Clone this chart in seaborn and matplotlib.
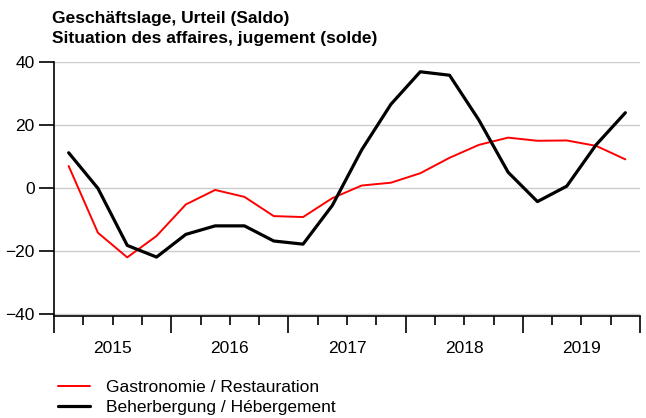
import pandas as pd
import seaborn as sns
import matplotlib.pyplot as plt
from matplotlib.ticker import MultipleLocator
import matplotlib.transforms as mtransforms

# quarterly balances 2015Q1 - 2019Q4
quarters = pd.period_range('2015Q1', '2019Q4', freq='Q')
gastro = [7.0, -14.2, -22.0, -15.2, -5.2, -0.6, -2.8, -8.9, -9.2, -3.2,
          0.8, 1.7, 4.7, 9.6, 13.7, 16.0, 15.0, 15.1, 13.4, 9.1]
hotel = [11.2, -0.1, -18.2, -21.9, -14.7, -12.0, -12.0, -16.8, -17.8, -5.5,
         12.1, 26.6, 36.9, 35.8, 21.6, 5.0, -4.3, 0.6, 13.7, 23.9]
years = [2015, 2016, 2017, 2018, 2019]
series_names = ['Gastronomie / Restauration', 'Beherbergung / Hébergement']
title = 'Geschäftslage, Urteil (Saldo)\nSituation des affaires, jugement (solde)'

# x position = middle of each quarter
xpos = [p.year + (p.quarter - 0.5) / 4 for p in quarters]
df = pd.DataFrame({
    'x': xpos * 2,
    'value': gastro + hotel,
    'series': [series_names[0]] * len(gastro) + [series_names[1]] * len(hotel),
})

sns.set_style('white')
plt.rcParams['font.family'] = ['Liberation Sans', 'DejaVu Sans']
plt.rcParams['text.color'] = 'black'
plt.rcParams['xtick.color'] = 'black'
plt.rcParams['ytick.color'] = 'black'
plt.rcParams['xtick.labelcolor'] = 'black'
plt.rcParams['ytick.labelcolor'] = 'black'
fs = 12.5

fig = plt.figure(figsize=(6.46, 4.18), dpi=100)
ax = fig.add_axes([54 / 646, 1 - 316 / 418, 586 / 646, 254 / 418])

sns.lineplot(data=df, x='x', y='value', hue='series', hue_order=series_names,
             palette=['#ff0000', 'black'], ax=ax, legend=False)
ax.lines[0].set_linewidth(1.4)
ax.lines[1].set_linewidth(2.3)

ax.set_xlim(2015, 2020)
ax.set_ylim(-40.6, 40)
ax.set_yticks([-40, -20, 0, 20, 40])
ax.yaxis.grid(True, color='#cccccc', linewidth=1)
ax.set_axisbelow(True)
ax.set_xlabel('')
ax.set_ylabel('')

for side in ['top', 'right']:
    ax.spines[side].set_visible(False)
for side in ['left', 'bottom']:
    ax.spines[side].set_color('black')
    ax.spines[side].set_linewidth(1.2)

ax.xaxis.set_major_locator(MultipleLocator(1))
ax.xaxis.set_minor_locator(MultipleLocator(0.25))
ax.set_xticklabels([])
ax.tick_params(axis='x', which='major', length=12, width=1.2, color='black', direction='out', bottom=True)
ax.tick_params(axis='x', which='minor', length=6.7, width=1.2, color='black', direction='out', bottom=True)
ax.tick_params(axis='y', length=11, width=1.2, color='black', labelcolor='black', pad=3, labelsize=fs, left=True)

trans = mtransforms.blended_transform_factory(ax.transData, ax.transAxes)
for y in years:
    ax.text(y + 0.5, -0.126, str(y), transform=trans, ha='center', va='center',
            fontsize=fs, color='black')

fig.text(52 / 646, 1 - 11 / 418, title, ha='left', va='top', fontsize=fs,
         fontweight='bold', linespacing=1.45, color='black')

handles = ax.lines[:2]
leg = fig.legend(handles, series_names, loc='upper left', bbox_to_anchor=(53 / 646, 1 - 375 / 418),
                 frameon=False, handlelength=1.85, handletextpad=0.9, labelspacing=0.25, fontsize=fs,
                 borderaxespad=0, borderpad=0.3)
for t in leg.get_texts():
    t.set_color('black')

fig.savefig('out.png', dpi=100)
